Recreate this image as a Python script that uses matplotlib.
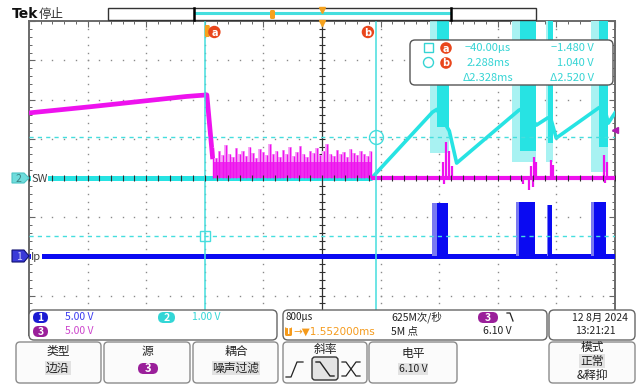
import numpy as np
import matplotlib.pyplot as plt
from matplotlib.patches import FancyBboxPatch, Rectangle, Polygon, Circle

plt.rcParams['font.family'] = ['Noto Sans CJK SC', 'DejaVu Sans']

# scope settings
t_div = 0.8                      # ms / div
t_pos = 1.552                    # ms at screen centre
t_left = t_pos - 5 * t_div
t_right = t_pos + 5 * t_div
ch1_vdiv, ch1_off = 5.0, 2.0     # Ip
ch2_vdiv, ch2_off = 1.0, 4.0     # SW
ch3_vdiv, ch3_off = 5.0, 4.0

# ch3 (magenta), time in ms, volts
ch3_ramp_t = [t_left, -1.6, -0.8, -0.3, -0.02, 0.02, 0.06]
ch3_ramp_v = [8.3, 9.1, 9.9, 10.4, 10.6, 6.5, 2.4]
ch3_noise_start, ch3_noise_end = 0.06, 2.22
ch3_noise_peak = [3.9, 2.6, 3.4, 2.9, 4.2, 3.1, 2.7, 3.8, 3.0, 3.5, 2.8, 4.0,
                  3.2, 2.6, 3.7, 3.3, 2.9, 4.3, 3.0, 3.4, 2.7, 3.6, 3.1, 3.9,
                  2.8, 3.3, 4.1, 3.0, 2.7, 3.5, 3.2, 3.8, 2.9, 3.4, 4.4, 3.1,
                  2.8, 3.6, 3.0, 3.3, 2.7, 3.7, 3.2, 2.9, 3.5, 3.0, 2.8, 3.4]
ch3_spike_t = [3.20, 3.25, 3.29, 3.33, 4.40, 4.44, 4.47, 4.68, 4.70, 5.40, 5.44]
ch3_spike_v = [2.0, 4.6, 3.5, 1.5, 1.5, 2.7, 2.0, 2.3, 1.6, 2.9, 2.0]
ch3_dip_t = [3.22, 4.30, 4.38, 4.43, 5.42]
ch3_dip_v = [-0.8, -0.8, -1.5, -1.2, -0.6]

# ch2 (cyan)
ch2_t = [2.23, 3.06, 3.12, 3.29, 3.39, 4.24, 4.30, 4.48, 4.63, 4.67, 4.75, 5.33, 5.40, 5.46, t_right]
ch2_v = [0.0, 1.68, 1.75, 1.20, 0.38, 1.73, 1.78, 1.35, 1.53, 1.55, 1.02, 1.79, 1.85, 1.40, 1.66]
burst_t0 = [3.02, 4.14, 4.61, 5.23]
burst_t1 = [3.28, 4.47, 4.70, 5.45]
burst_low = [0.65, 0.40, 0.40, 0.15]
burst_core = [3.12, 4.25, 4.64, 5.34]
burst_core_low = [1.3, 0.7, 0.9, 0.8]

# ch1 (blue) pulses
ch1_t0 = [3.05, 4.20, 4.63, 5.22]
ch1_t1 = [3.27, 4.46, 4.69, 5.43]
ch1_core = [3.12, 4.24, 4.64, 5.27]
ch1_top = [6.8, 7.0, 6.6, 7.0]

cursor_t = [-0.040, 2.288]
cursor_v = [-1.480, 1.040]

BLUE = '#0a0af2'
CYAN = '#27e3e3'
LCYAN = '#a8f2f2'
MAG = '#ee12ee'
LMAG = '#f7a6f7'
CUR = '#45dede'


def d1(v):
    return ch1_off + np.asarray(v, dtype=float) / ch1_vdiv


def d2(v):
    return ch2_off + np.asarray(v, dtype=float) / ch2_vdiv


def d3(v):
    return ch3_off + np.asarray(v, dtype=float) / ch3_vdiv


fig = plt.figure(figsize=(6.4, 3.91), dpi=100)
ax = fig.add_axes([29 / 640, 1 - 334.8 / 391, 586 / 640, 313.6 / 391])
ax.set_xlim(t_left, t_right)
ax.set_ylim(0, 8)

# graticule
for k in range(1, 10):
    if k == 5:
        continue
    yy = np.arange(0, 8.01, 0.2)
    ax.plot(np.full_like(yy, t_left + k * t_div), yy, ls='none', marker='s', ms=1.0,
            mew=0, color='#8a8a8a', zorder=1)
for j in range(1, 8):
    if j == 4:
        continue
    xx = t_left + np.arange(0, 10.01, 0.2) * t_div
    ax.plot(xx, np.full_like(xx, j), ls='none', marker='s', ms=1.0, mew=0,
            color='#8a8a8a', zorder=1)
ax.axvline(t_pos, color='#303030', lw=0.9, zorder=1)
yy = np.arange(0, 8.01, 0.2)
ax.plot(np.full_like(yy, t_pos), yy, ls='none', marker='_', ms=4, mew=0.8, color='#303030', zorder=1)
xx = t_left + np.arange(0, 10.01, 0.2) * t_div
ax.plot(xx, np.full_like(xx, 4), ls='none', marker='|', ms=4, mew=0.8, color='#303030', zorder=8)

ax.set_xticks([t_left + k * t_div for k in range(11)])
ax.set_xticks(t_left + np.arange(0, 10.01, 0.2) * t_div, minor=True)
ax.set_yticks(range(9))
ax.set_yticks(np.arange(0, 8.01, 0.2), minor=True)
ax.tick_params(which='both', direction='in', top=True, right=True, labelbottom=False,
               labelleft=False, color='#666666')
ax.tick_params(which='major', length=4, width=0.8)
ax.tick_params(which='minor', length=2.5, width=0.7)
for s in ['left', 'top', 'right']:
    ax.spines[s].set_color('#6a6a6a')
    ax.spines[s].set_linewidth(1.4)
ax.spines['bottom'].set_visible(False)

# ch1 blue
ax.plot([t_left, t_right], [d1(0), d1(0)], color=BLUE, lw=3.6, solid_capstyle='butt', zorder=3)
for a, c, b, top in zip(ch1_t0, ch1_core, ch1_t1, ch1_top):
    ax.fill_between([a, c], d1(0), d1(top), color='#7a7af0', lw=0, zorder=3)
    ax.fill_between([c, b], d1(0), d1(top), color=BLUE, lw=0, zorder=3)

# ch2 cyan
ax.plot([t_left, ch2_t[0]], [d2(0), d2(0)], color=CYAN, lw=3.6, solid_capstyle='butt', zorder=4)
for a, c, b, lo, clo in zip(burst_t0, burst_core, burst_t1, burst_low, burst_core_low):
    ax.fill_between([a, b], d2(lo), 9, color=LCYAN, lw=0, zorder=4)
    ax.fill_between([c, b], d2(clo), 9, color=CYAN, lw=0, zorder=4)
ax.plot(ch2_t, d2(ch2_v), color=CYAN, lw=2.6, zorder=4)

# ch3 magenta
ax.plot(ch3_ramp_t, d3(ch3_ramp_v), color=MAG, lw=3.4, solid_capstyle='butt', zorder=5)
nt = np.linspace(ch3_noise_start, ch3_noise_end, len(ch3_noise_peak))
ax.fill_between(nt, d3(0), d3(ch3_noise_peak), step='mid', color=LMAG, lw=0, zorder=5)
ax.fill_between([ch3_noise_start, ch3_noise_end], d3(0), d3(2.0), color=MAG, alpha=0.8, lw=0, zorder=5)
ax.vlines(nt, d3(0), d3(ch3_noise_peak), color=MAG, lw=1.0, zorder=5)
ax.plot([ch3_noise_end, t_right], [d3(0), d3(0)], color=MAG, lw=3.0, solid_capstyle='butt', zorder=5)
ax.vlines(ch3_spike_t, d3(0), d3(ch3_spike_v), color=MAG, lw=1.6, zorder=5)
ax.vlines(ch3_dip_t, d3(0), d3(ch3_dip_v), color=MAG, lw=1.6, zorder=5)

# cursors
for t in cursor_t:
    ax.axvline(t, color=CUR, lw=1.1, zorder=6)
for v in cursor_v:
    ax.axhline(d2(v), color=CUR, lw=1.0, ls=(0, (3, 3)), zorder=6)
ax.plot(cursor_t[0], d2(cursor_v[0]), marker='s', ms=7.5, mfc='none', mec=CUR, mew=1.0, zorder=7)
ax.plot(cursor_t[1], d2(cursor_v[1]), marker='o', ms=10, mfc='none', mec=CUR, mew=1.0, zorder=7)
ax.plot(t_right, d3(6.10), marker='<', ms=5, color='#b01ab0', clip_on=False, zorder=7)

# ---- screen chrome, pixel coordinates ----
ui = fig.add_axes([0, 0, 1, 1], zorder=10)
ui.set_xlim(0, 640)
ui.set_ylim(391, 0)
ui.axis('off')
ui.patch.set_alpha(0)


def rbox(x0, y0, x1, y1, r=4, fc='white', ec='#666666', lw=1.0, z=11):
    p = FancyBboxPatch((x0, y0), x1 - x0, y1 - y0, boxstyle=f'round,pad=0,rounding_size={r}',
                       fc=fc, ec=ec, lw=lw, zorder=z)
    ui.add_patch(p)


def pill(x0, y0, x1, y1, color, label, fs=7.5):
    rbox(x0, y0, x1, y1, r=(y1 - y0) / 2, fc=color, ec='none', z=12)
    ui.text((x0 + x1) / 2, (y0 + y1) / 2 + 0.5, label, color='white', fontsize=fs,
            ha='center', va='center', fontweight='bold', zorder=13)


def tx(t):
    return 29 + (t - t_left) / (t_right - t_left) * 586


# top bar
ui.text(12, 14, 'Tek', fontsize=10, fontweight='bold', ha='left', va='center',
        family='DejaVu Sans', color='#111111')
ui.text(39, 14, '停止', fontsize=9, ha='left', va='center', color='#333333')
ui.add_patch(Rectangle((108, 8), 428, 12, fc='white', ec='#333333', lw=1.0, zorder=11))
ui.plot([195, 450], [13, 13], color=CUR, lw=2.2, zorder=12)
ui.plot([194, 194], [8, 20], color='black', lw=1.8, zorder=12)
ui.plot([451, 451], [8, 20], color='black', lw=1.8, zorder=12)
rbox(270, 10, 275, 19, r=1.5, fc='#f5a21e', ec='none', z=13)
ui.plot(tx(t_pos), 9.5, marker='v', ms=4.5, color='#f5a21e', zorder=13)
ui.plot(tx(t_pos), 23, marker='v', ms=5, color='#f5a21e', zorder=13)

# cursor tags
rbox(tx(0) - 3.5, 25, tx(0) + 1.5, 37, r=1.5, fc='#f5a21e', ec='none', z=13)
for t, lab in zip(cursor_t, ['a', 'b']):
    cx = tx(t) + 9 if lab == 'a' else tx(t) - 8
    ui.add_patch(Circle((cx, 32), 6.2, fc='#e9461c', ec='none', zorder=13))
    ui.text(cx, 32.5, lab, color='white', fontsize=7, fontweight='bold', ha='center',
            va='center', family='DejaVu Sans', zorder=14)

# channel markers
ui.add_patch(Polygon([[12, 173], [24, 173], [29, 178], [24, 183], [12, 183]], closed=True,
                     fc='#6fdcdc', ec='#4cc4c4', lw=0.8, zorder=12))
ui.text(18.5, 178.5, '2', fontsize=7.5, color='#3a8080', ha='center', va='center', zorder=13)
ui.text(31, 178.5, 'SW', fontsize=8, color='#404040', ha='left', va='center', zorder=13,
        bbox=dict(fc='white', ec='none', pad=0.3))
ui.add_patch(Polygon([[12, 250], [24, 250], [29, 256], [24, 262], [12, 262]], closed=True,
                     fc='#3a3ad8', ec='#101070', lw=0.8, zorder=12))
ui.text(18.5, 256.5, '1', fontsize=7.5, color='#d0d0ff', ha='center', va='center', zorder=13)
ui.text(31, 256.5, 'Ip', fontsize=8, color='#404040', ha='left', va='center', zorder=13,
        bbox=dict(fc='white', ec='none', pad=0.3))

# cursor readout
rbox(410, 40, 613, 85, r=5, ec='#555555', lw=1.0)
RC = '#35d4d4'
ui.add_patch(Rectangle((424, 43), 9, 9, fc='none', ec=RC, lw=1.0, zorder=12))
ui.add_patch(Circle((428.5, 62.5), 5, fc='none', ec=RC, lw=1.0, zorder=12))
for yy_, lab in [(48, 'a'), (63, 'b')]:
    ui.add_patch(Circle((446, yy_), 5.8, fc='#e9461c', ec='none', zorder=12))
    ui.text(446, yy_ + 0.5, lab, color='white', fontsize=7, fontweight='bold', ha='center',
            va='center', family='DejaVu Sans', zorder=13)
rows = [('−40.00µs', '−1.480 V'), ('2.288ms', '1.040 V'), ('Δ2.328ms', 'Δ2.520 V')]
for (a, b), yy_ in zip(rows, [48, 63, 78]):
    ui.text(488, yy_, a, color=RC, fontsize=8, ha='center', va='center', zorder=13)
    ui.text(594, yy_, b, color=RC, fontsize=8, ha='right', va='center', zorder=13)

# bottom readouts
rbox(29, 310, 277, 340, r=5)
rbox(283, 310, 547, 340, r=5)
rbox(549, 310, 635, 340, r=5)
pill(33, 312, 48, 323, '#1b1bd2', '1')
ui.text(65, 317.5, '5.00 V', color='#3b3bf0', fontsize=7.5, ha='left', va='center', zorder=13)
pill(158, 312, 175, 323, '#33d6d6', '2')
ui.text(192, 317.5, '1.00 V', color='#33d6d6', fontsize=7.5, ha='left', va='center', zorder=13)
pill(33, 326, 48, 337, '#9a1f9a', '3')
ui.text(65, 331.5, '5.00 V', color='#cc44cc', fontsize=7.5, ha='left', va='center', zorder=13)

ui.text(286, 317.5, '800µs', color='#222222', fontsize=7, ha='left', va='center', zorder=13)
rbox(285, 327, 292, 336, r=1.5, fc='#f59a1b', ec='none', z=12)
ui.text(288.5, 331.7, 'T', color='white', fontsize=5.5, fontweight='bold', ha='center',
        va='center', family='DejaVu Sans', zorder=13)
ui.text(293, 331.5, '→▼1.552000ms', color='#f59a1b', fontsize=7.5, ha='left', va='center',
        family='DejaVu Sans', zorder=13)
ui.text(391, 317.5, '625M次/秒', color='#222222', fontsize=7.5, ha='left', va='center', zorder=13)
ui.text(391, 331.5, '5M 点', color='#222222', fontsize=7.5, ha='left', va='center', zorder=13)
pill(478, 312, 498, 323, '#9a1f9a', '3')
ui.plot([507, 510, 513], [313, 313, 321], color='#222222', lw=0.9, zorder=13)
ui.text(483, 331.5, '6.10 V', color='#222222', fontsize=7.5, ha='left', va='center', zorder=13)
ui.text(600, 317.5, '12 8月 2024', color='#222222', fontsize=7.5, ha='center', va='center', zorder=13)
ui.text(595, 331.5, '13:21:21', color='#222222', fontsize=7.5, ha='center', va='center', zorder=13)

# soft buttons
buttons = [(16, 101), (104, 190), (193, 278), (283, 367), (369, 457), (549, 635)]
for x0, x1 in buttons:
    rbox(x0, 342, x1, 383, r=4, fc='#fbfbfb', ec='#8c8c8c', lw=1.0)
hl = dict(fc='#e2e2e2', ec='none', pad=0.6)
TC = '#222222'
ui.text(58, 351, '类型', fontsize=8.5, color=TC, ha='center', va='center', zorder=13)
ui.text(58, 368, '边沿', fontsize=8.5, color=TC, ha='center', va='center', zorder=13, bbox=hl)
ui.text(147, 351, '源', fontsize=8.5, color=TC, ha='center', va='center', zorder=13)
pill(138, 363, 158, 374, '#9a1f9a', '3', fs=8)
ui.text(236, 351, '耦合', fontsize=8.5, color=TC, ha='center', va='center', zorder=13)
ui.text(236, 368, '噪声过滤', fontsize=8.5, color=TC, ha='center', va='center', zorder=13, bbox=hl)
ui.text(325, 349, '斜率', fontsize=8.5, color=TC, ha='center', va='center', zorder=13)
ui.plot([286, 291, 297, 303], [377, 377, 362, 362], color=TC, lw=0.9, zorder=13)
rbox(312, 357, 338, 380, r=3, fc='#e4e4e4', ec='#333333', lw=1.0, z=12)
ui.plot([316, 320, 330, 334], [362, 362, 376, 376], color=TC, lw=1.0, zorder=13)
ui.plot([342, 346, 356, 360], [362, 362, 376, 376], color=TC, lw=0.9, zorder=13)
ui.plot([342, 346, 356, 360], [376, 376, 362, 362], color=TC, lw=0.9, zorder=13)
ui.text(413, 353, '电平', fontsize=8.5, color=TC, ha='center', va='center', zorder=13)
ui.text(413, 369, '6.10 V', fontsize=7.5, color=TC, ha='center', va='center', zorder=13, bbox=hl)
ui.text(592, 348, '模式', fontsize=8.5, color=TC, ha='center', va='center', zorder=13)
ui.text(592, 361, '正常', fontsize=8.5, color=TC, ha='center', va='center', zorder=13, bbox=hl)
ui.text(592, 375, '&释抑', fontsize=8.5, color=TC, ha='center', va='center', zorder=13)

fig.savefig('out.png', dpi=100)
